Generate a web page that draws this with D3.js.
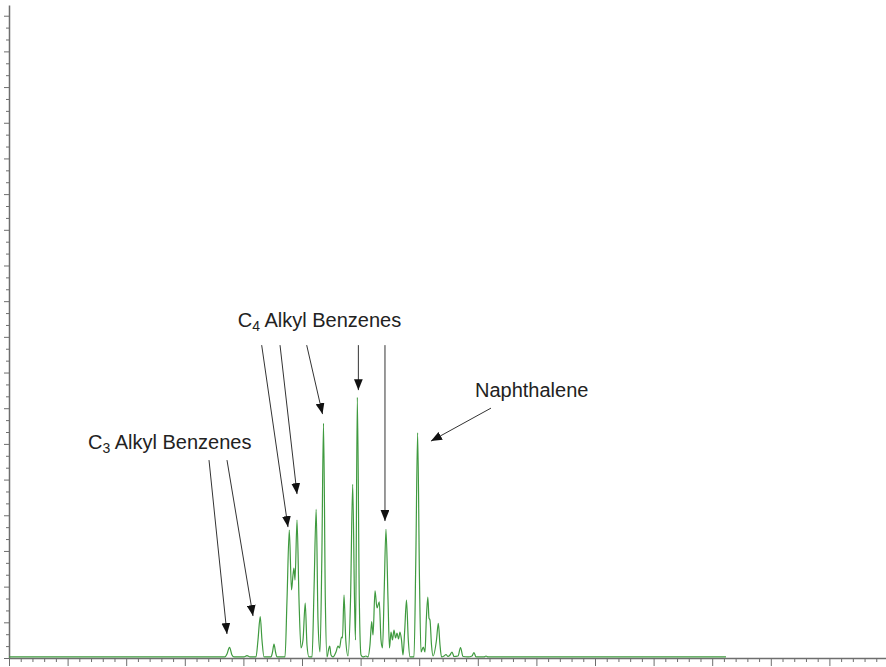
<!DOCTYPE html>
<html><head><meta charset="utf-8">
<script src="https://cdn.jsdelivr.net/npm/d3@7"></script>
<style>
html,body{margin:0;padding:0;background:#fff;}
svg{display:block;}
text{font-family:"Liberation Sans",Arial,sans-serif;fill:#222;}
</style></head>
<body>
<svg id="chart" width="886" height="667"></svg>
<script>
// Retention time (min)
const times = [0,3.686,3.720,3.763,3.805,3.840,4.010,4.061,4.113,4.215,4.249,4.287,4.317,4.352,4.471,4.497,4.522,4.548,4.573,
4.710,4.744,4.783,4.821,4.846,4.863,4.881,4.915,4.949,4.983,5.017,5.055,5.085,5.119,5.171,5.205,5.242,5.273,5.307,5.338,5.367,5.398,
5.427,5.452,5.473,5.495,5.529,5.580,5.614,5.640,5.674,5.691,5.717,5.747,5.785,5.828,5.865,5.896,5.913,5.944,5.978,6.007,6.041,6.092,
6.126,6.160,6.189,6.212,6.246,6.280,6.319,6.348,6.374,6.403,6.433,6.468,6.493,6.519,6.544,6.570,6.596,6.621,6.647,6.672,6.698,6.724,
6.753,6.783,6.814,6.843,6.911,6.942,6.973,7.005,7.031,7.070,7.099,7.121,7.147,7.167,7.184,7.210,7.236,7.295,7.326,7.355,7.381,7.423,
7.457,7.491,7.526,7.560,7.594,7.662,7.705,7.747,7.833,7.901,7.935,7.969,8.106,8.140,8.174,12.235];
// Detector signal (arbitrary units)
const signal = [0.03,0.03,0.112,0.300,0.084,0.03,0.03,0.064,0.03,0.03,0.504,1.157,0.504,0.03,0.03,0.168,0.392,0.168,0.03,
0.03,1.625,3.585,1.905,2.325,2.521,2.185,3.866,1.625,0.280,0.504,1.541,0.364,0.03,0.03,1.905,4.165,1.064,0.168,2.745,6.574,1.625,
0.03,0.224,0.336,0.084,0.03,0.168,0.336,0.280,0.588,0.560,1.765,0.504,0.056,1.625,4.866,1.625,0.504,7.303,1.625,0.084,0.03,0.056,
0.03,0.364,1.017,0.644,1.885,1.401,1.577,0.504,0.280,1.905,3.605,1.625,0.280,0.728,0.504,0.784,0.560,0.700,0.532,0.728,0.504,0.084,
0.784,1.625,0.504,0.03,0.03,2.745,6.311,2.185,0.168,0.308,0.168,1.064,1.709,1.120,1.064,0.364,0.056,0.504,0.972,0.364,0.03,0.056,
0.098,0.042,0.084,0.168,0.042,0.056,0.294,0.042,0.03,0.056,0.154,0.03,0.03,0.056,0.03,0.03];

const xTickMajor = [0,1,2,3,4,5,6,7,8,9,10,11,12,13,14,15];
const yTickMajor = [0,1,2,3,4,5,6,7,8,9,10,11,12,13,14,15,16,17,18];

// Annotations: labels and arrows (data coordinates)
const labels = [
  {main:"C", sub:"3", rest:" Alkyl Benzenes", t:1.348, s:5.854},
  {main:"C", sub:"4", rest:" Alkyl Benzenes", t:3.903, s:9.280},
  {main:"Naphthalene", sub:"", rest:"", t:7.952, s:7.311}
];
const arrows = [
  {t0:3.413, s0:5.546, t1:3.720, s1:0.672},
  {t0:3.720, s0:5.546, t1:4.164, s1:1.176},
  {t0:4.312, s0:8.768, t1:4.761, s1:3.669},
  {t0:4.625, s0:8.768, t1:4.915, s1:4.594},
  {t0:5.080, s0:8.768, t1:5.350, s1:6.835},
  {t0:5.962, s0:8.768, t1:5.962, s1:7.507},
  {t0:6.416, s0:8.768, t1:6.416, s1:3.838},
  {t0:8.225, s0:7.003, t1:7.201, s1:6.078}
];

const svg = d3.select("#chart");
const x = d3.scaleLinear().domain([0,15]).range([9,888]);
const y = d3.scaleLinear().domain([0,18.3]).range([658,5]);

// minor ticks
const xMinor = d3.range(0,15.01,0.2).filter(v=>Math.abs(v-Math.round(v))>1e-6);
const yMinor = d3.range(0,18.3,1/3).filter(v=>Math.abs(v-Math.round(v))>1e-6);

const axColor = "#6e6e6e";
const gx = svg.append("g").attr("transform","translate(0,658)");
gx.call(d3.axisBottom(x).tickValues(xTickMajor).tickSize(8).tickSizeOuter(0).tickFormat(""));
const gxm = svg.append("g").attr("transform","translate(0,658)");
gxm.call(d3.axisBottom(x).tickValues(xMinor).tickSize(4).tickSizeOuter(0).tickFormat(""));
gxm.select(".domain").remove();

const gy = svg.append("g").attr("transform","translate(9,0)");
gy.call(d3.axisLeft(y).tickValues(yTickMajor).tickSize(5).tickSizeOuter(0).tickFormat(""));
const gym = svg.append("g").attr("transform","translate(9,0)");
gym.call(d3.axisLeft(y).tickValues(yMinor).tickSize(3).tickSizeOuter(0).tickFormat(""));
gym.select(".domain").remove();

svg.selectAll(".domain").attr("stroke",axColor).attr("stroke-width",1.5);
svg.selectAll(".tick line").attr("stroke",axColor);

// chromatogram
const data = times.map((t,i)=>({t, s:signal[i]}));
const line = d3.line().x(d=>x(d.t)).y(d=>y(d.s)).curve(d3.curveMonotoneX);
svg.append("path").datum(data).attr("d",line)
  .attr("fill","none").attr("stroke","#3f9a3f").attr("stroke-width",1.2);

// arrow marker
svg.append("defs").append("marker")
  .attr("id","ah").attr("viewBox","0 0 10 8").attr("refX",10).attr("refY",4)
  .attr("markerWidth",11).attr("markerHeight",9).attr("markerUnits","userSpaceOnUse")
  .attr("orient","auto")
  .append("path").attr("d","M0,0 L10,4 L0,8 Z").attr("fill","#111");

svg.selectAll("line.arrow").data(arrows).enter().append("line")
  .attr("class","arrow")
  .attr("x1",d=>x(d.t0)).attr("y1",d=>y(d.s0))
  .attr("x2",d=>x(d.t1)).attr("y2",d=>y(d.s1))
  .attr("stroke","#333").attr("stroke-width",1)
  .attr("marker-end","url(#ah)");

const lt = svg.selectAll("text.lab").data(labels).enter().append("text")
  .attr("class","lab").attr("x",d=>x(d.t)).attr("y",d=>y(d.s))
  .style("font-size","20px");
lt.append("tspan").text(d=>d.main);
lt.filter(d=>d.sub).append("tspan").text(d=>d.sub).style("font-size","14px").attr("dy",4);
lt.filter(d=>d.rest).append("tspan").text(d=>d.rest).attr("dy",-4);
</script>
</body></html>
